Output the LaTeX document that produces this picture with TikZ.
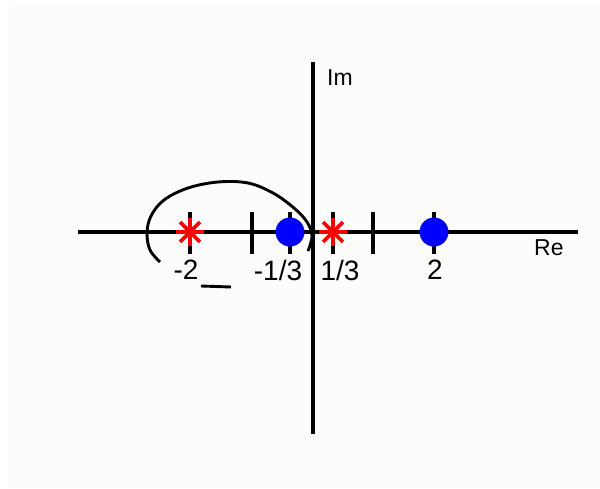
\documentclass[tikz,border=0pt]{standalone}
\usepackage{fontspec}
\setmainfont{Liberation Sans}
\definecolor{bgpaper}{RGB}{252,253,251}
\definecolor{pred}{RGB}{255,0,0}
\definecolor{zblue}{RGB}{0,0,255}
\begin{document}
\begin{tikzpicture}[x=1pt,y=-1pt,
  axisline/.style={line width=3.6pt},
  tickmark/.style={line width=3.2pt},
  polemark/.style={pred,line width=3.6pt},
  zerodot/.style={circle,fill=zblue,minimum size=29pt,inner sep=0pt},
  numlabel/.style={font=\fontsize{28}{28}\selectfont,inner sep=0pt,anchor=north},
  axlabel/.style={font=\fontsize{23}{23}\selectfont,inner sep=0pt},
  locus/.style={line width=2.9pt}]
\useasboundingbox (0,0) rectangle (600,488);
\fill[white] (0,0) rectangle (600,488);
\fill[bgpaper] (9,5) rectangle (600,488);
% axes
\coordinate (xl) at (78,232);
\coordinate (xr) at (578,232);
\coordinate (yt) at (313,62);
\coordinate (yb) at (313,434);
\draw[axisline] (xl) -- (xr);
\draw[axisline] (yt) -- (yb);
% tick positions
\foreach \n/\x in {a/190,b/252,c/290,d/333,e/373,f/434}{
  \coordinate (t\n) at (\x,232);
  \draw[tickmark] ([yshift=-22pt]t\n) -- ([yshift=20pt]t\n);
}
% locus curve
\draw[locus] plot[smooth,tension=0.6] coordinates {(160,262) (150,250) (147,233) (151,216) (164,200) (188,188) (218,182) (248,183) (273,193) (294,208) (307,222) (312,236) (308,251)};
\coordinate (s1) at (201,286);
\coordinate (s2) at (231,287);
\draw[locus] (s1) -- (s2);
% poles (red asterisks)
\foreach \n in {a,d}{
  \foreach \ang in {0,45,90,135}{
    \draw[polemark] ([shift={(\ang:14pt)}]t\n) -- ([shift={(\ang+180:14pt)}]t\n);
  }
}
% zeros (blue dots)
\node[zerodot] (z1) at (tc) {};
\node[zerodot] (z2) at (tf) {};
% labels
\node[numlabel] (l1) at (186,260) {-2};
\node[numlabel] (l2) at (278,260) {-1/3};
\node[numlabel] (l3) at (340,260) {1/3};
\node[numlabel] (l4) at (435,260) {2};
\node[axlabel,anchor=north west] (re) at (534,239) {Re};
\node[axlabel,anchor=north west] (im) at (327,69) {Im};
\end{tikzpicture}
\end{document}
